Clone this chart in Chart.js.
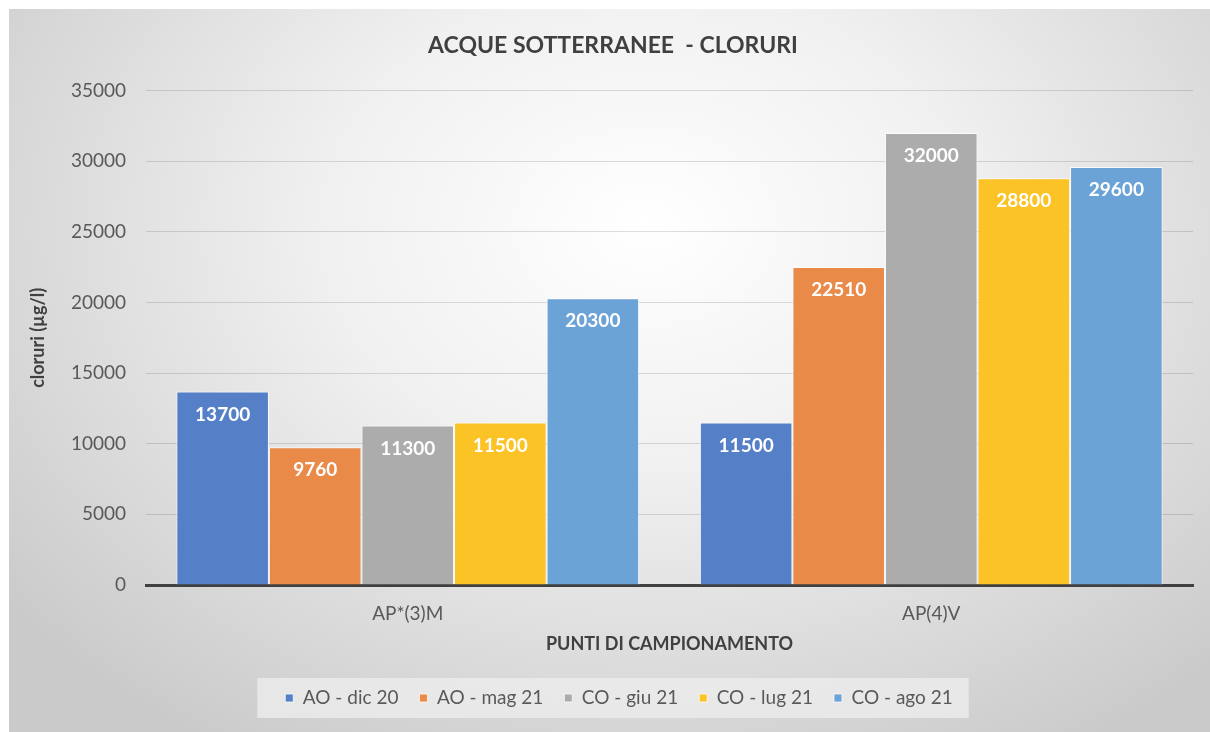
<!DOCTYPE html>
<html>
<head>
<meta charset="utf-8">
<script src="https://cdn.jsdelivr.net/npm/chart.js@4"></script>
<style>
    html, body { margin: 0; padding: 0; background: #ffffff; }
    #frame {
        position: absolute;
        left: 9px;
        top: 9px;
        width: 1201px;
        height: 723px;
        background: radial-gradient(ellipse 68% 85% at 53% 30%, #ffffff 0%, #f0f0f0 40%, #cacaca 100%);
    }
</style>
</head>
<body>
<div id="frame"><canvas id="clorChart" width="1201" height="723"></canvas></div>
<script>
// Data
const categories = ['AP*(3)M', 'AP(4)V'];
const seriesNames = ['AO - dic 20', 'AO - mag 21', 'CO - giu 21', 'CO - lug 21', 'CO - ago 21'];
const aoDic20 = [13700, 11500];
const aoMag21 = [9760, 22510];
const coGiu21 = [11300, 32000];
const coLug21 = [11500, 28800];
const coAgo21 = [20300, 29600];
const yTicks = [0, 5000, 10000, 15000, 20000, 25000, 30000, 35000];

const seriesValues = [aoDic20, aoMag21, coGiu21, coLug21, coAgo21];
const seriesColors = ['#5580c8', '#e98a48', '#acacac', '#fbc325', '#6ba3d6'];

Chart.defaults.font.family = 'Lato, "Open Sans", sans-serif';

// Value labels inside the top of each bar
const barLabels = {
    id: 'barLabels',
    afterDraw(chart) {
        const ctx = chart.ctx;
        ctx.save();
        ctx.font = 'bold 19px Lato';
        ctx.fillStyle = '#ffffff';
        ctx.textAlign = 'center';
        ctx.textBaseline = 'middle';
        chart.data.datasets.forEach((ds, i) => {
            chart.getDatasetMeta(i).data.forEach((bar, j) => {
                ctx.fillText(String(ds.data[j]), bar.x, bar.y + 23);
            });
        });
        ctx.restore();
    }
};

// Light box behind the legend, fixed legend height, small horizontal nudges
const legendBox = {
    id: 'legendBox',
    afterInit(chart) {
        const legend = chart.legend;
        const fit = legend.fit;
        legend.fit = function() {
            fit.call(this);
            this.height = 64.5;
        };
    },
    afterLayout(chart) {
        chart.legend.left += 18;
        chart.legend.right += 18;
        chart.titleBlock.left += 12;
        chart.titleBlock.right += 12;
    },
    beforeDraw(chart) {
        const boxes = chart.legend.legendHitBoxes;
        if (!boxes || !boxes.length) return;
        const left = boxes[0].left - 28;
        const last = boxes[boxes.length - 1];
        const right = last.left + last.width + 16;
        const cy = boxes[0].top + boxes[0].height / 2;
        const ctx = chart.ctx;
        ctx.save();
        ctx.fillStyle = 'rgba(235, 235, 235, 0.85)';
        ctx.fillRect(left, cy - 20, right - left, 40);
        ctx.restore();
    }
};

const clorData = {
    labels: categories,
    datasets: seriesNames.map((name, i) => ({
        label: name,
        data: seriesValues[i],
        backgroundColor: seriesColors[i],
        borderColor: 'rgba(255, 255, 255, 0.75)',
        borderWidth: 1,
        categoryPercentage: 0.884,
        barPercentage: 1
    }))
};

const clorConfig = {
    type: 'bar',
    data: clorData,
    options: {
        responsive: false,
        animation: false,
        layout: { padding: { left: 0, right: 17, top: 0, bottom: 0 } },
        plugins: {
            title: {
                display: true,
                text: 'ACQUE SOTTERRANEE  - CLORURI',
                color: '#404040',
                font: { size: 23, weight: 'bold' },
                padding: { top: 23, bottom: 31 }
            },
            legend: {
                position: 'bottom',
                labels: {
                    boxWidth: 8,
                    boxHeight: 8,
                    padding: 21,
                    color: '#595959',
                    font: { size: 19 }
                }
            },
            tooltip: { enabled: false }
        },
        scales: {
            x: {
                afterFit(scale) { scale.height = 82.5; },
                grid: { display: false, drawTicks: false },
                border: { color: '#404040', width: 3 },
                ticks: { color: '#595959', font: { size: 19 }, padding: 17.6 },
                title: {
                    display: true,
                    text: 'PUNTI DI CAMPIONAMENTO',
                    color: '#404040',
                    font: { size: 18, weight: 'bold' },
                    padding: { top: 0, bottom: 12.7 }
                }
            },
            y: {
                min: 0,
                max: 35000,
                z: 1,
                afterFit(scale) { scale.width = 137; },
                afterBuildTicks(scale) { scale.ticks = yTicks.map(v => ({ value: v })); },
                grid: { color: 'rgba(0, 0, 0, 0.13)', drawTicks: false },
                border: { display: false },
                ticks: {
                    color: '#595959',
                    font: { size: 19 },
                    padding: 20,
                    callback: (value) => String(value)
                },
                title: {
                    display: true,
                    text: 'cloruri (µg/l)',
                    color: '#404040',
                    font: { size: 18, weight: 'bold' },
                    padding: { top: 18, bottom: 0 }
                }
            }
        }
    },
    plugins: [barLabels, legendBox]
};

const clorCtx = document.getElementById('clorChart');
if (clorCtx) {
    new Chart(clorCtx, clorConfig);
}
</script>
</body>
</html>
